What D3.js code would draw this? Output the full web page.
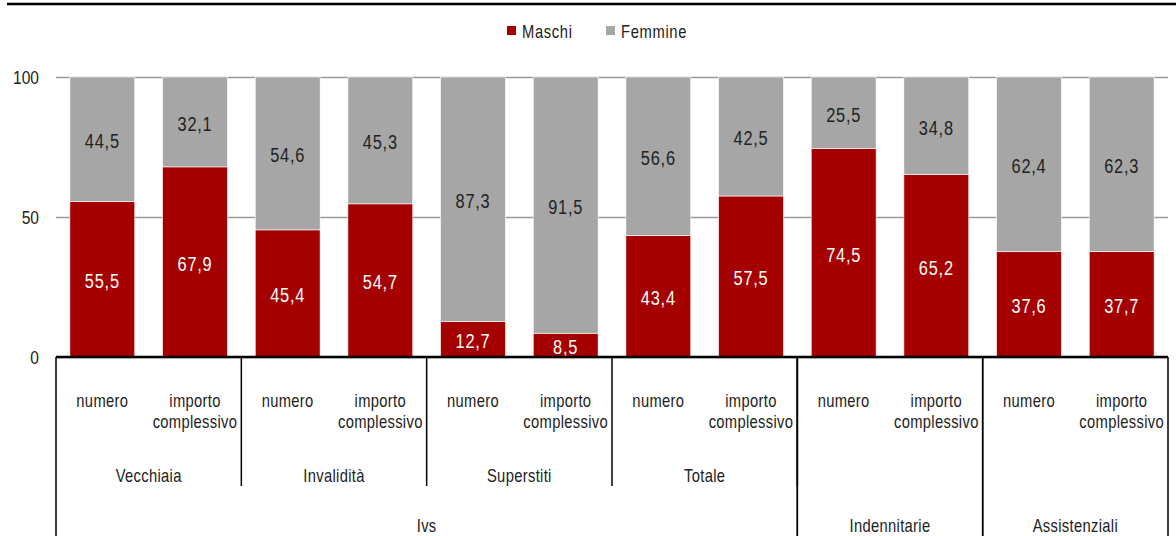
<!DOCTYPE html>
<html>
<head>
<meta charset="utf-8">
<script src="https://cdn.jsdelivr.net/npm/d3@7"></script>
<style>
  body { margin: 0; background: #fff; }
  svg text { font-family: 'Liberation Sans', Arial, sans-serif; }
</style>
</head>
<body>
<div id="chart"></div>
<script>
const misura = ["numero", "importo complessivo", "numero", "importo complessivo", "numero", "importo complessivo",
  "numero", "importo complessivo", "numero", "importo complessivo", "numero", "importo complessivo"];
const gestione = ["Vecchiaia", "Vecchiaia", "Invalidità", "Invalidità", "Superstiti", "Superstiti",
  "Totale", "Totale", "", "", "", ""];
const tipo = ["Ivs", "Ivs", "Ivs", "Ivs", "Ivs", "Ivs", "Ivs", "Ivs",
  "Indennitarie", "Indennitarie", "Assistenziali", "Assistenziali"];
const maschi = [55.5, 67.9, 45.4, 54.7, 12.7, 8.5, 43.4, 57.5, 74.5, 65.2, 37.6, 37.7];
const femmine = [44.5, 32.1, 54.6, 45.3, 87.3, 91.5, 56.6, 42.5, 25.5, 34.8, 62.4, 62.3];
const serie = ["Maschi", "Femmine"];
const yTicks = [0, 50, 100];

const width = 1176, height = 536;
const margin = ({top: 77, right: 8, bottom: 179, left: 56});
const colors = {Maschi: "#a50000", Femmine: "#a6a6a6"};
const narrow = 0.82; // fake "Arial Narrow"
const fmt = v => v.toFixed(1).replace(".", ",");

const svg = d3.select("#chart").append("svg")
  .attr("width", width)
  .attr("height", height);

const idx = d3.range(maschi.length);
const x = d3.scaleBand()
  .domain(idx)
  .range([margin.left, width - margin.right])
  .paddingInner(0.3)
  .paddingOuter(0.15);
const y = d3.scaleLinear()
  .domain([0, 100])
  .range([height - margin.bottom, margin.top]);
const step = x.step();
const left = i => x(i) - step * 0.15;

// top rule
svg.append("line")
  .attr("x1", 7).attr("x2", width)
  .attr("y1", 4).attr("y2", 4)
  .attr("stroke", "#000").attr("stroke-width", 2.5);

// legend
const legend = svg.append("g").attr("font-size", 18);
const lx = [507, 606];
serie.forEach((s, k) => {
  legend.append("rect")
    .attr("x", lx[k]).attr("y", 26).attr("width", 9).attr("height", 9)
    .attr("fill", colors[s]);
  legend.append("text")
    .attr("x", lx[k] + 15).attr("y", 38)
    .attr("fill", "#222")
    .attr("letter-spacing", 0.8)
    .text(s);
});

// y grid + labels
svg.append("g")
  .attr("transform", `translate(${margin.left},0)`)
  .call(d3.axisLeft(y).tickValues(yTicks).tickSize(-(width - margin.left - margin.right)).tickPadding(17))
  .call(g => g.select(".domain").remove())
  .call(g => g.selectAll(".tick line").attr("stroke", "#9a9a9a").attr("stroke-width", 1.3))
  .call(g => g.selectAll(".tick text")
    .attr("font-size", 19)
    .attr("font-family", "'Liberation Sans', Arial, sans-serif")
    .attr("fill", "#222"));

// stacked bars
const stack = d3.stack().keys(serie)(idx.map(i => ({Maschi: maschi[i], Femmine: femmine[i]})));
const layers = svg.append("g")
  .selectAll("g")
  .data(stack)
  .join("g")
    .attr("fill", d => colors[d.key]);
layers.selectAll("rect")
  .data(d => d.map((v, i) => ({v, i})))
  .join("rect")
    .attr("x", d => x(d.i))
    .attr("width", x.bandwidth())
    .attr("y", d => y(d.v[1]))
    .attr("height", d => y(d.v[0]) - y(d.v[1]))
    .attr("stroke", "#fff")
    .attr("stroke-width", 0.6);
layers.selectAll("text")
  .data(d => d.map((v, i) => ({v, i, key: d.key})))
  .join("text")
    .attr("x", d => x(d.i) + x.bandwidth() / 2)
    .attr("y", d => (y(d.v[0]) + y(d.v[1])) / 2 + 1.5)
    .attr("dy", "0.35em")
    .attr("text-anchor", "middle")
    .attr("font-size", 21)
    .attr("letter-spacing", 1)
    .attr("data-sx", 0.78)
    .attr("fill", d => d.key === "Maschi" ? "#fff" : "#222")
    .text(d => fmt(d.key === "Maschi" ? maschi[d.i] : femmine[d.i]));

// category axis (multi level)
const y0 = y(0);
const axis = svg.append("g").attr("font-size", 18).attr("fill", "#222");

// spans of consecutive labels
const spans = arr => {
  const out = [];
  arr.forEach((v, i) => {
    if (out.length && out[out.length - 1].name === v) out[out.length - 1].end = i;
    else out.push({name: v, start: i, end: i});
  });
  return out;
};

// level 1 labels
idx.forEach(i => {
  const cx = x(i) + x.bandwidth() / 2;
  const t = axis.append("text")
    .attr("x", cx)
    .attr("y", 407)
    .attr("text-anchor", "middle")
    .attr("letter-spacing", 0.4);
  misura[i].split(" ").forEach((w, k) => t.append("tspan")
    .attr("x", cx)
    .attr("dy", k ? 21 : 0)
    .text(w));
});

// level 2 labels and separators
spans(gestione).filter(s => s.name).forEach(s => {
  axis.append("text")
    .attr("x", (left(s.start) + left(s.end) + step) / 2)
    .attr("y", 482)
    .attr("text-anchor", "middle")
    .attr("letter-spacing", 0.4)
    .text(s.name);
  axis.append("line")
    .attr("x1", left(s.end) + step).attr("x2", left(s.end) + step)
    .attr("y1", y0).attr("y2", 486)
    .attr("stroke", "#000").attr("stroke-width", 1.5);
});

// level 3 labels and separators
spans(tipo).forEach(s => {
  axis.append("text")
    .attr("x", (left(s.start) + left(s.end) + step) / 2)
    .attr("y", 532)
    .attr("text-anchor", "middle")
    .attr("letter-spacing", 0.4)
    .text(s.name);
  [left(s.start), left(s.end) + step].forEach(px => axis.append("line")
    .attr("x1", px).attr("x2", px)
    .attr("y1", y0).attr("y2", height)
    .attr("stroke", "#000").attr("stroke-width", 1.5));
});

// baseline
svg.append("line")
  .attr("x1", margin.left).attr("x2", width - margin.right)
  .attr("y1", y0).attr("y2", y0)
  .attr("stroke", "#000").attr("stroke-width", 2.5);

// squeeze every label horizontally around its anchor
svg.selectAll("text").each(function () {
  const ax = +this.getAttribute("x") || 0;
  const sx = +this.getAttribute("data-sx") || narrow;
  d3.select(this).attr("transform", `translate(${ax},0) scale(${sx},1) translate(${-ax},0)`);
});
</script>
</body>
</html>
